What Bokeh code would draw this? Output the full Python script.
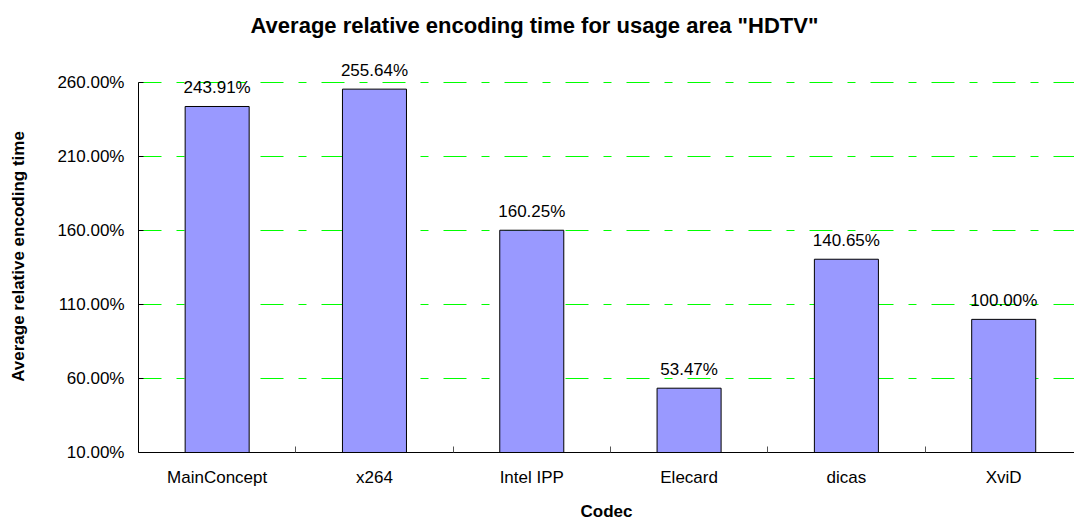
from bokeh.plotting import figure
from bokeh.layouts import column
from bokeh.models import (ColumnDataSource, FixedTicker, PrintfTickFormatter,
                          Range1d, LabelSet, Label)
from bokeh.core.properties import value
from bokeh.embed import file_html
from bokeh.resources import INLINE

codecs = ["MainConcept", "x264", "Intel IPP", "Elecard", "dicas", "XviD"]
values = [243.91, 255.64, 160.25, 53.47, 140.65, 100.00]
y_ticks = [10, 60, 110, 160, 210, 260]
title_text = 'Average relative encoding time  for usage area "HDTV"'
x_title = "Codec"
y_title = "Average relative encoding time"

FONT = "Liberation Sans"

pos = [i + 0.5 for i in range(len(codecs))]
src = ColumnDataSource(dict(
    x=pos, top=values, bottom=[y_ticks[0]] * len(values),
    label=["%.2f%%" % v for v in values],
))

# title strip (its frame is aligned with the main plot's frame)
t = figure(width=1074, height=60, output_backend="svg", toolbar_location=None,
           x_axis_location=None, y_axis_location=None,
           x_range=Range1d(0, 1), y_range=Range1d(0, 1),
           min_border=0, outline_line_color=None)
t.grid.visible = False
t.add_layout(Label(x=399, y=35, x_units="screen", y_units="screen",
                   text=title_text, text_align="center",
                   text_baseline="alphabetic", text_font=FONT,
                   text_font_size="22px", text_font_style="bold",
                   text_color="black"))

p = figure(width=1074, height=470, output_backend="svg", toolbar_location=None,
           x_range=Range1d(0, 5.95), y_range=Range1d(y_ticks[0], 275),
           min_border_left=138, min_border_right=0, min_border_top=0,
           min_border_bottom=78, outline_line_color=None)

p.vbar(x="x", top="top", bottom="bottom", width=0.407, source=src,
       fill_color="#9999FF", line_color="black", line_width=1)

labels = LabelSet(x="x", y="top", text="label", source=src, text_align="center",
                  text_baseline="alphabetic", y_offset=13,
                  text_font=value(FONT), text_font_size="17px",
                  text_color="black")
p.add_layout(labels)

# x axis
p.xaxis.ticker = FixedTicker(ticks=pos, minor_ticks=[1, 2, 3, 4, 5])
p.xaxis.major_label_overrides = {x: c for x, c in zip(pos, codecs)}
p.xaxis.major_tick_in = 0
p.xaxis.major_tick_out = 0
p.xaxis.minor_tick_in = 6
p.xaxis.minor_tick_out = 0
p.xaxis.minor_tick_line_color = "#555555"
p.xaxis.axis_line_color = "black"
p.xaxis.major_label_text_font = FONT
p.xaxis.major_label_text_font_size = "17px"
p.xaxis.major_label_text_color = "black"
p.xaxis.major_label_standoff = 15
p.xaxis.axis_label = x_title
p.xaxis.axis_label_text_font = FONT
p.xaxis.axis_label_text_font_size = "17px"
p.xaxis.axis_label_text_font_style = "bold"
p.xaxis.axis_label_text_color = "black"
p.xaxis.axis_label_standoff = 12

# y axis
p.yaxis.ticker = FixedTicker(ticks=y_ticks)
p.yaxis.bounds = (y_ticks[0], y_ticks[-1])
p.yaxis.formatter = PrintfTickFormatter(format="%.2f%%")
p.yaxis.major_tick_in = 5
p.yaxis.major_tick_out = 0
p.yaxis.minor_tick_line_color = None
p.yaxis.major_tick_line_color = "black"
p.yaxis.axis_line_color = "black"
p.yaxis.major_label_text_font = FONT
p.yaxis.major_label_text_font_size = "17px"
p.yaxis.major_label_text_color = "black"
p.yaxis.major_label_standoff = 14
p.yaxis.axis_label = y_title
p.yaxis.axis_label_text_font = FONT
p.yaxis.axis_label_text_font_size = "17px"
p.yaxis.axis_label_text_font_style = "bold"
p.yaxis.axis_label_text_color = "black"
p.yaxis.axis_label_standoff = 26

# grid
p.xgrid.grid_line_color = None
p.ygrid.ticker = FixedTicker(ticks=y_ticks[1:])
p.ygrid.grid_line_color = "#00FF00"
p.ygrid.grid_line_width = 1
p.ygrid.grid_line_dash = "23 15 8 15"

layout = column(t, p, spacing=0)
open("out.html", "w").write(file_html(layout, INLINE))
